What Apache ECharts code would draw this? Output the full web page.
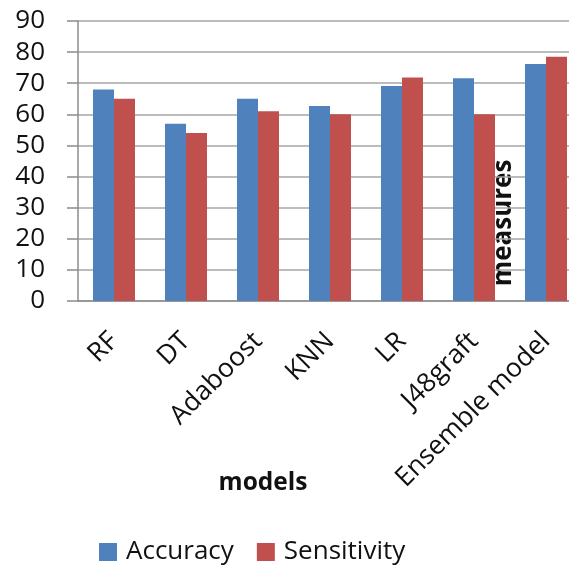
<!DOCTYPE html>
<html><head><meta charset="utf-8">
<script src="https://cdn.jsdelivr.net/npm/echarts@6/dist/echarts.min.js"></script>
<style>html,body{margin:0;padding:0;background:#fff}#c{width:569px;height:569px}</style>
</head><body><div id="c"></div>
<script>
const categories = ['RF','DT','Adaboost','KNN','LR','J48graft','Ensemble model'];
const accuracy = [68, 57, 65, 62.7, 69.1, 71.6, 76.2];
const sensitivity = [65, 54, 61, 60, 71.8, 60, 78.5];
const yTicks = [0,10,20,30,40,50,60,70,80,90];
const seriesNames = ['Accuracy','Sensitivity'];

const font = '"Open Sans", "Liberation Sans", sans-serif';
const chart = echarts.init(document.getElementById('c'));
chart.setOption({
  animation: false,
  textStyle: {fontFamily: font},
  grid: {left: 78, top: 21, height: 280, width: 504, containLabel: false, outerBoundsMode: 'none'},
  xAxis: {
    type: 'category', data: categories,
    axisLine: {lineStyle: {color: '#8c8c8c', width: 1.5}},
    axisTick: {show: false},
    axisLabel: {rotate: 45, fontSize: 26.5, color: '#111', margin: 36, fontFamily: font, interval: 0}
  },
  yAxis: {
    type: 'value', min: yTicks[0], max: yTicks[yTicks.length-1], interval: 10,
    axisLine: {show: true, lineStyle: {color: '#8c8c8c', width: 1.5}},
    axisTick: {show: true, length: 11, lineStyle: {color: '#8c8c8c', width: 1.5}},
    splitLine: {lineStyle: {color: '#a6a6a6', width: 1.5}},
    axisLabel: {fontSize: 26, color: '#111', margin: 33, fontFamily: font}
  },
  legend: {
    data: seriesNames, top: 534, left: 94, itemWidth: 18, itemHeight: 18, itemGap: 23,
    icon: 'rect', textStyle: {fontSize: 26, color: '#111', fontFamily: font, padding: [0, 0, 0, 4]}
  },
  series: [
    {name: seriesNames[0], type: 'bar', data: accuracy, barWidth: 21, barGap: 0, itemStyle: {color: '#4F81BD'}},
    {name: seriesNames[1], type: 'bar', data: sensitivity, barWidth: 21, itemStyle: {color: '#C0504D'}}
  ],
  graphic: [
    {type: 'text', x: 504, y: 223, rotation: Math.PI/2,
     style: {text: 'measures', fontSize: 26, fontWeight: 'bold', fill: '#111', align: 'center', verticalAlign: 'middle', fontFamily: font}},
    {type: 'text', x: 263, y: 483,
     style: {text: 'models', fontSize: 24.5, fontWeight: 'bold', fill: '#111', align: 'center', verticalAlign: 'middle', fontFamily: font}}
  ]
});
</script></body></html>
